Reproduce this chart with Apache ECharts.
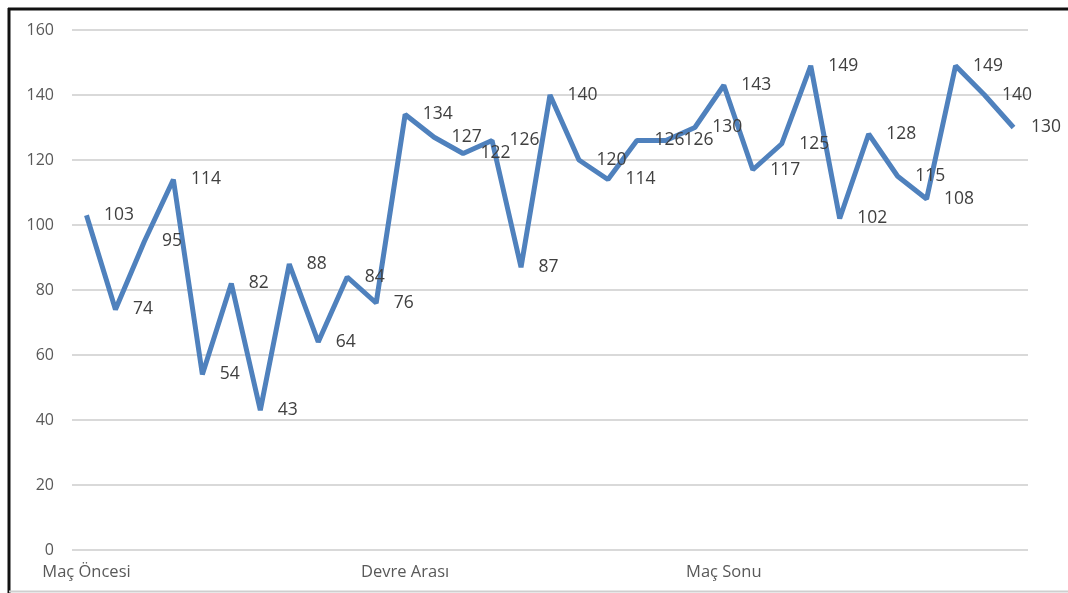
<!DOCTYPE html>
<html>
<head>
<meta charset="utf-8">
<script src="https://cdn.jsdelivr.net/npm/echarts@6/dist/echarts.min.js"></script>
<style>
  html, body { margin:0; padding:0; background:#fff; }
  #chart { width:1068px; height:593px; }
</style>
</head>
<body>
<div id="chart"></div>
<script>
  // one value per moment, labels only on three of them
  var steps = [];
  for (var i = 1; i <= 33; i++) steps.push(String(i));
  var tickLabels = { 0: 'Maç Öncesi', 11: 'Devre Arası', 22: 'Maç Sonu' };
  var values = [103, 74, 95, 114, 54, 82, 43, 88, 64, 84, 76,
                134, 127, 122, 126, 87, 140, 120, 114, 126, 126, 130,
                143, 117, 125, 149, 102, 128, 115, 108, 149, 140, 130];
  var yTicks = { min: 0, max: 160, step: 20 };

  var font = '"Open Sans", "Noto Sans", sans-serif';
  var chart = echarts.init(document.getElementById('chart'), null, { renderer: 'canvas' });
  chart.setOption({
    animation: false,
    backgroundColor: '#fff',
    grid: { left: 72, right: 40, top: 30, bottom: 43 },
    xAxis: {
      type: 'category', data: steps, boundaryGap: true,
      axisLine: { show: false }, axisTick: { show: false },
      axisLabel: {
        interval: 0, margin: 14, color: '#595959', fontFamily: font, fontSize: 16.5,
        formatter: function (v, idx) { return tickLabels[idx] || ''; }
      }
    },
    yAxis: {
      type: 'value', min: yTicks.min, max: yTicks.max, interval: yTicks.step,
      axisLine: { show: false }, axisTick: { show: false },
      axisLabel: { margin: 18, color: '#595959', fontFamily: font, fontSize: 16 },
      splitLine: { lineStyle: { color: '#d9d9d9', width: 2 } }
    },
    series: [{
      type: 'line', data: values,
      symbol: 'circle', symbolSize: 1,
      itemStyle: { color: 'rgba(0,0,0,0)' },
      lineStyle: { color: '#4f81bd', width: 5 },
      label: {
        show: true, position: 'right', distance: 17,
        color: '#404040', fontFamily: font, fontSize: 17.5
      },
      emphasis: { disabled: true }
    }],
    graphic: [
      { type: 'line', shape: { x1: 8, y1: 9, x2: 1068, y2: 9 }, style: { stroke: '#111', lineWidth: 3 } },
      { type: 'line', shape: { x1: 9, y1: 8, x2: 9, y2: 593 }, style: { stroke: '#111', lineWidth: 3 } },
      { type: 'line', shape: { x1: 9, y1: 591.5, x2: 1068, y2: 591.5 }, style: { stroke: '#cfcfcf', lineWidth: 2 } }
    ]
  });
</script>
</body>
</html>
